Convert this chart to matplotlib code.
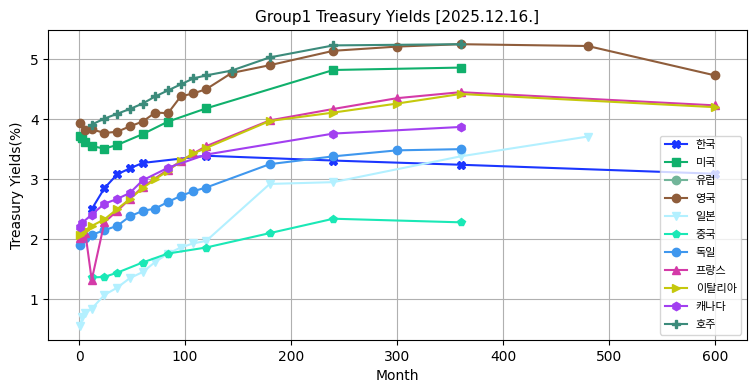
import matplotlib
matplotlib.use("Agg")
import matplotlib.pyplot as plt

plt.rcParams['font.family'] = ['DejaVu Sans', 'Noto Sans CJK KR']

# yields by maturity (months)
kr_m = [12, 24, 36, 48, 60, 120, 240, 360, 600]
kr_y = [2.50, 2.85, 3.08, 3.18, 3.27, 3.39, 3.31, 3.24, 3.09]

us_m = [1, 3, 6, 12, 24, 36, 60, 84, 120, 240, 360]
us_y = [3.72, 3.68, 3.62, 3.55, 3.51, 3.57, 3.75, 3.96, 4.18, 4.82, 4.86]

eu_m = []
eu_y = []

uk_m = [1, 6, 12, 24, 36, 48, 60, 72, 84, 96, 108, 120, 144, 180, 240, 300, 360, 480, 600]
uk_y = [3.93, 3.82, 3.83, 3.77, 3.79, 3.88, 3.96, 4.11, 4.10, 4.38, 4.43, 4.50, 4.77,
        4.90, 5.14, 5.21, 5.25, 5.22, 4.73]

jp_m = [1, 3, 6, 12, 24, 36, 48, 60, 72, 84, 96, 108, 120, 180, 240, 360, 480]
jp_y = [0.55, 0.70, 0.77, 0.84, 1.07, 1.19, 1.35, 1.45, 1.62, 1.76, 1.86, 1.93, 1.97,
        2.92, 2.95, 3.38, 3.71]

cn_m = [12, 24, 36, 60, 84, 120, 180, 240, 360]
cn_y = [1.36, 1.37, 1.44, 1.61, 1.76, 1.86, 2.10, 2.34, 2.28]

de_m = [1, 6, 12, 24, 36, 48, 60, 72, 84, 96, 108, 120, 180, 240, 300, 360]
de_y = [1.91, 2.02, 2.07, 2.15, 2.22, 2.38, 2.47, 2.51, 2.62, 2.72, 2.80, 2.86,
        3.25, 3.38, 3.48, 3.50]

fr_m = [1, 3, 6, 12, 24, 36, 48, 60, 84, 96, 108, 120, 180, 240, 300, 360, 600]
fr_y = [2.02, 2.06, 2.10, 1.32, 2.28, 2.47, 2.67, 2.87, 3.16, 3.30, 3.43, 3.55,
        3.98, 4.17, 4.35, 4.45, 4.23]

it_m = [1, 3, 6, 12, 24, 36, 48, 60, 72, 84, 96, 108, 120, 180, 240, 300, 360, 600]
it_y = [2.07, 2.10, 2.15, 2.22, 2.33, 2.50, 2.67, 2.85, 3.00, 3.14, 3.30, 3.43, 3.52,
        3.97, 4.11, 4.26, 4.42, 4.20]

ca_m = [1, 3, 12, 24, 36, 48, 60, 84, 120, 240, 360]
ca_y = [2.21, 2.27, 2.41, 2.59, 2.67, 2.77, 2.98, 3.19, 3.41, 3.76, 3.87]

au_m = [12, 24, 36, 48, 60, 72, 84, 96, 108, 120, 144, 180, 240, 360]
au_y = [3.91, 4.01, 4.09, 4.17, 4.26, 4.38, 4.48, 4.58, 4.68, 4.73, 4.81, 5.03, 5.23, 5.25]

series = [
    ('한국', kr_m, kr_y, '#1b36ff', 'X'),
    ('미국', us_m, us_y, '#10b06c', 's'),
    ('유럽', eu_m, eu_y, '#72b59a', 'o'),
    ('영국', uk_m, uk_y, '#8f5d3b', 'o'),
    ('일본', jp_m, jp_y, '#b3f0ff', 'v'),
    ('중국', cn_m, cn_y, '#1ae8b6', 'p'),
    ('독일', de_m, de_y, '#3f97ee', 'o'),
    ('프랑스', fr_m, fr_y, '#d43aa8', '^'),
    ('이탈리아', it_m, it_y, '#c5c80c', '>'),
    ('캐나다', ca_m, ca_y, '#a23ff0', 'h'),
    ('호주', au_m, au_y, '#3c8b7b', 'P'),
]

fig, ax = plt.subplots(figsize=(7.55, 3.91), dpi=100)
for name, m, y, c, mk in series:
    ax.plot(m, y, marker=mk, color=c, label=name, linewidth=1.5, markersize=6)

ax.set_title('Group1 Treasury Yields [2025.12.16.]', fontsize=11)
ax.set_xlabel('Month')
ax.set_ylabel('Treasury Yields(%)')
ax.grid(True)
ax.legend(loc='lower right', fontsize=8, labelspacing=0.72)

plt.subplots_adjust(left=0.064, right=0.989, top=0.923, bottom=0.130)
plt.savefig('out.png', dpi=100)
